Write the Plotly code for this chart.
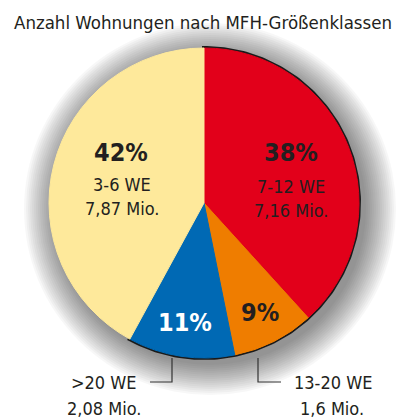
import math
import plotly.graph_objects as go

title = "Anzahl Wohnungen nach MFH-Größenklassen"
categories = ["7-12 WE", "13-20 WE", ">20 WE", "3-6 WE"]
values_mio = [7.16, 1.6, 2.08, 7.87]
value_labels = ["7,16 Mio.", "1,6 Mio.", "2,08 Mio.", "7,87 Mio."]
percent_labels = ["38%", "9%", "11%", "42%"]
colors = ["#e2001a", "#ef7d00", "#0069b4", "#fee99b"]
outlined = [True, True, True, False]

W, H = 407, 420
CX, CY, R = 204, 203, 155
FONT = "DejaVu Sans Condensed, Roboto, Liberation Sans, sans-serif"
TXT = "#231f20"

fig = go.Figure()

# soft shadow behind pie
shapes = []
for i in range(16):
    rr = R + 1 + i * 2
    shapes.append(dict(type="circle", xref="x", yref="y", layer="below",
                       x0=CX + 6 - rr, x1=CX + 6 + rr, y0=CY + 6 - rr, y1=CY + 6 + rr,
                       fillcolor="rgba(0,0,0,0.032)", line=dict(width=0)))

fig.add_trace(go.Pie(
    labels=categories, values=values_mio, sort=False, direction="clockwise", rotation=0,
    marker=dict(colors=colors, line=dict(color=colors, width=1)),
    textinfo="none", hoverinfo="skip", showlegend=False,
    domain=dict(x=[(CX - R) / W, (CX + R) / W], y=[(H - CY - R) / H, (H - CY + R) / H]),
))

# outline around the highlighted group of slices
total = sum(values_mio)
frac = sum(v for v, o in zip(values_mio, outlined) if o) / total
n = 200
xs, ys = [CX], [CY]
for k in range(n + 1):
    a = math.radians(90 - 360 * frac * k / n)
    xs.append(CX + R * math.cos(a))
    ys.append(CY - R * math.sin(a))
xs.append(CX)
ys.append(CY)
fig.add_trace(go.Scatter(x=xs, y=ys, mode="lines", line=dict(color="#1a1a1a", width=4),
                         hoverinfo="skip", showlegend=False))

# leader lines
fig.add_trace(go.Scatter(x=[172, 172, 150], y=[358, 382, 382], mode="lines",
                         line=dict(color="#333", width=1.2), hoverinfo="skip", showlegend=False))
fig.add_trace(go.Scatter(x=[258, 258, 281], y=[358, 382, 382], mode="lines",
                         line=dict(color="#333", width=1.2), hoverinfo="skip", showlegend=False))

ann = []
def add(x, y, text, size, color=TXT, bold=False, xanchor="center"):
    ann.append(dict(x=x, y=y, xref="x", yref="y", text=text, showarrow=False,
                    xanchor=xanchor, yanchor="middle",
                    font=dict(family=FONT, size=size, color=color, weight=700 if bold else 400)))

add(203, 22, title, 18.5)
add(291, 152, percent_labels[0], 25, bold=True)
add(291, 186, categories[0], 18)
add(291, 210, value_labels[0], 18)
add(121, 152, percent_labels[3], 25, bold=True)
add(122, 184, categories[3], 18)
add(122, 208, value_labels[3], 18)
add(185, 322, percent_labels[2], 25, color="white", bold=True)
add(260, 312, percent_labels[1], 25, bold=True)
add(104, 382, categories[2], 18)
add(104, 408, value_labels[2], 18)
add(292, 382, categories[1], 18, xanchor="left")
add(298, 408, value_labels[1], 18, xanchor="left")

fig.update_layout(
    width=W, height=H, margin=dict(l=0, r=0, t=0, b=0),
    paper_bgcolor="white", plot_bgcolor="rgba(0,0,0,0)",
    xaxis=dict(range=[0, W], visible=False, fixedrange=True),
    yaxis=dict(range=[H, 0], visible=False, fixedrange=True),
    shapes=shapes, annotations=ann,
)

fig.write_html("out.html", config={"displayModeBar": False},
               post_script="document.body.style.margin='0';document.body.style.overflow='hidden';")
